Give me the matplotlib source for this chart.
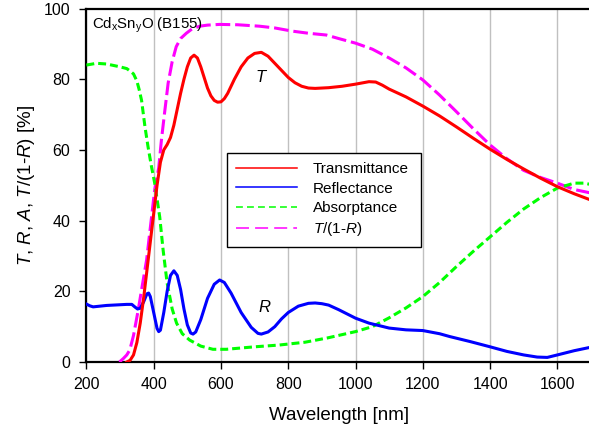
import matplotlib
matplotlib.use("Agg")
import matplotlib.pyplot as plt
from matplotlib.lines import Line2D

plt.rcParams['font.family'] = ['Liberation Sans', 'DejaVu Sans']
plt.rcParams['mathtext.fontset'] = 'custom'
plt.rcParams['mathtext.rm'] = 'Liberation Sans'
plt.rcParams['mathtext.it'] = 'Liberation Sans:italic'
plt.rcParams['mathtext.default'] = 'regular'

# ---- data ----
wl_T = [320, 330, 340, 350, 360, 370, 380, 390, 400, 410, 420, 430, 440, 450, 460, 470, 480, 490,
        500, 510, 520, 530, 540, 550, 560, 570, 580, 590, 600, 610, 620, 640, 660, 680, 700, 720,
        740, 760, 780, 800, 820, 840, 860, 880, 900, 920, 960, 1000, 1040, 1060, 1080, 1100, 1150,
        1200, 1250, 1300, 1350, 1400, 1450, 1500, 1550, 1600, 1650, 1700]
T = [0, 0.5, 2, 5.5, 11, 18, 26, 34, 42, 50, 56.5, 60, 61.5, 63.5, 67, 71.5, 76, 80,
     83.5, 86, 86.8, 86, 83.5, 80.5, 77.5, 75.3, 74, 73.5, 73.6, 74.5, 76, 80, 83.5, 86, 87.3, 87.6,
     86.5, 84.5, 82.5, 80.5, 79, 78, 77.5, 77.4, 77.5, 77.6, 78, 78.6, 79.3, 79.2, 78.3, 77.2, 75,
     72.4, 69.6, 66.5, 63.3, 60.2, 57.3, 54.6, 52, 49.6, 47.6, 45.8]

wl_R = [200, 210, 220, 240, 260, 280, 300, 320, 335, 345, 352, 360, 370, 380, 385, 390, 400, 410,
        415, 420, 430, 440, 450, 460, 470, 480, 490, 500, 510, 517, 525, 540, 560, 580, 596, 610,
        630, 660, 690, 710, 720, 740, 760, 780, 800, 830, 860, 880, 900, 920, 950, 1000, 1040, 1100,
        1150, 1200, 1250, 1280, 1340, 1400, 1450, 1500, 1540, 1570, 1600, 1650, 1700]
R = [16.4, 15.9, 15.6, 15.8, 16, 16.1, 16.2, 16.3, 16.3, 15.5, 15, 15.2, 17, 19.3, 19.5, 18.5, 14, 9.5,
     8.6, 9, 14, 20, 24.5, 25.8, 24.5, 20.5, 15, 10.5, 8.2, 7.9, 8.5, 12, 18, 22, 23.2, 22.5,
     19.5, 14, 9.8, 8.1, 7.9, 8.5, 10, 12.2, 14, 15.8, 16.6, 16.7, 16.5, 16.1, 14.8, 12.4, 11, 9.6,
     9.1, 8.9, 8, 7.2, 5.8, 4.3, 3, 2, 1.4, 1.3, 2.0, 3.2, 4.2]

wl_A = [200, 230, 260, 300, 320, 330, 340, 350, 357, 364, 374, 383, 393, 403, 418, 428, 440, 455,
        468, 485, 507, 540, 576, 616, 700, 773, 850, 916, 1000, 1050, 1100, 1150, 1200, 1250, 1300,
        1350, 1400, 1450, 1500, 1550, 1600, 1650, 1680, 1700]
A = [84, 84.5, 84.3, 83.5, 83, 82.3, 81.5, 79.5, 77, 74, 66.6, 61, 55.5, 50.6, 41, 31.7, 22.3, 15,
     11, 8, 6.2, 4.5, 3.6, 3.6, 4.3, 4.8, 5.6, 6.8, 8.6, 10, 12.5, 15.3, 18.5, 22.5, 27,
     31.3, 35.4, 39.5, 43.3, 46.5, 49.2, 50.6, 50.6, 50.2]

wl_TR = [298, 310, 320, 329, 340, 354, 365, 379, 390, 403, 415, 423, 433, 443, 455, 467, 480, 497,
         515, 537, 560, 596, 650, 714, 760, 812, 860, 913, 950, 1000, 1050, 1100, 1150, 1200, 1250,
         1300, 1350, 1400, 1450, 1500, 1550, 1600, 1650, 1700]
TR = [0, 1, 2, 3.4, 7.5, 14.7, 21, 28.9, 38, 48.7, 55, 62.8, 71, 78.9, 85, 89.2, 91.5, 93,
      94.3, 95, 95.3, 95.5, 95.4, 95, 94.5, 93.6, 93, 92.5, 91.5, 90.2, 88.5, 86, 83.2, 79.8, 75.5,
      70.8, 66, 61.4, 57.5, 54.2, 52.2, 50.6, 48.8, 47.8]

labels = ['Transmittance', 'Reflectance', 'Absorptance', '$\\mathit{T}$/(1-$\\mathit{R}$)']
xticks = [200, 400, 600, 800, 1000, 1200, 1400, 1600]
yticks = [0, 20, 40, 60, 80, 100]

fig = plt.figure(figsize=(5.89, 4.36), dpi=100)
ax = fig.add_axes([0.1467, 0.1697, 0.8567, 0.8108])

lw = 2.2
ax.plot(wl_TR, TR, color='#ff00ff', lw=lw, dashes=(4.8, 1.6), zorder=3)
ax.plot(wl_A, A, color='#00ff00', lw=lw, dashes=(2.6, 1.3), zorder=3)
ax.plot(wl_R, R, color='#0000ff', lw=lw, zorder=4)
ax.plot(wl_T, T, color='#ff0000', lw=lw, zorder=4)

ax.set_xlim(200, 1700)
ax.set_ylim(0, 100)
ax.set_xticks(xticks)
ax.set_yticks(yticks)
ax.tick_params(direction='out', length=5, width=1, labelsize=11.5, colors='black')
ax.tick_params(axis='x', pad=5.5)
ax.tick_params(axis='y', pad=6.5)
ax.xaxis.grid(True, color='#c0c0c0', lw=1)
ax.set_axisbelow(True)
for s in ax.spines.values():
    s.set_linewidth(1.6)

ax.set_xlabel('Wavelength [nm]', fontsize=13.5, va='center')
ax.xaxis.set_label_coords(0.5, -0.15)
ax.set_ylabel('$\\mathit{T}$, $\\mathit{R}$, $\\mathit{A}$, $\\mathit{T}$/(1-$\\mathit{R}$) [%]',
              fontsize=13.5, va='center')
ax.yaxis.set_label_coords(-0.118, 0.5)

ax.text(218, 95.3, 'Cd$_x$Sn$_y$O (B155)', fontsize=10.8, va='center', ha='left')
ax.text(720, 80.6, '$\\mathit{T}$', fontsize=12, ha='center', va='center')
ax.text(729, 15.6, '$\\mathit{R}$', fontsize=12, ha='center', va='center')

handles = [Line2D([], [], color='#ff0000', lw=1.1),
           Line2D([], [], color='#0000ff', lw=1.1),
           Line2D([], [], color='#00ff00', lw=1.1, dashes=(4.5, 2.7)),
           Line2D([], [], color='#ff00ff', lw=1.1, dashes=(8.5, 4))]
leg = ax.legend(handles, labels, loc='upper left', bbox_to_anchor=(0.279, 0.0, 0.384, 0.591),
                mode='expand', borderaxespad=0, fontsize=11, handlelength=4.0,
                handletextpad=1.0, labelspacing=0.35, borderpad=0.6, fancybox=False,
                framealpha=1, edgecolor='black')
leg.get_frame().set_linewidth(1.0)

fig.savefig('out.png', dpi=100)
